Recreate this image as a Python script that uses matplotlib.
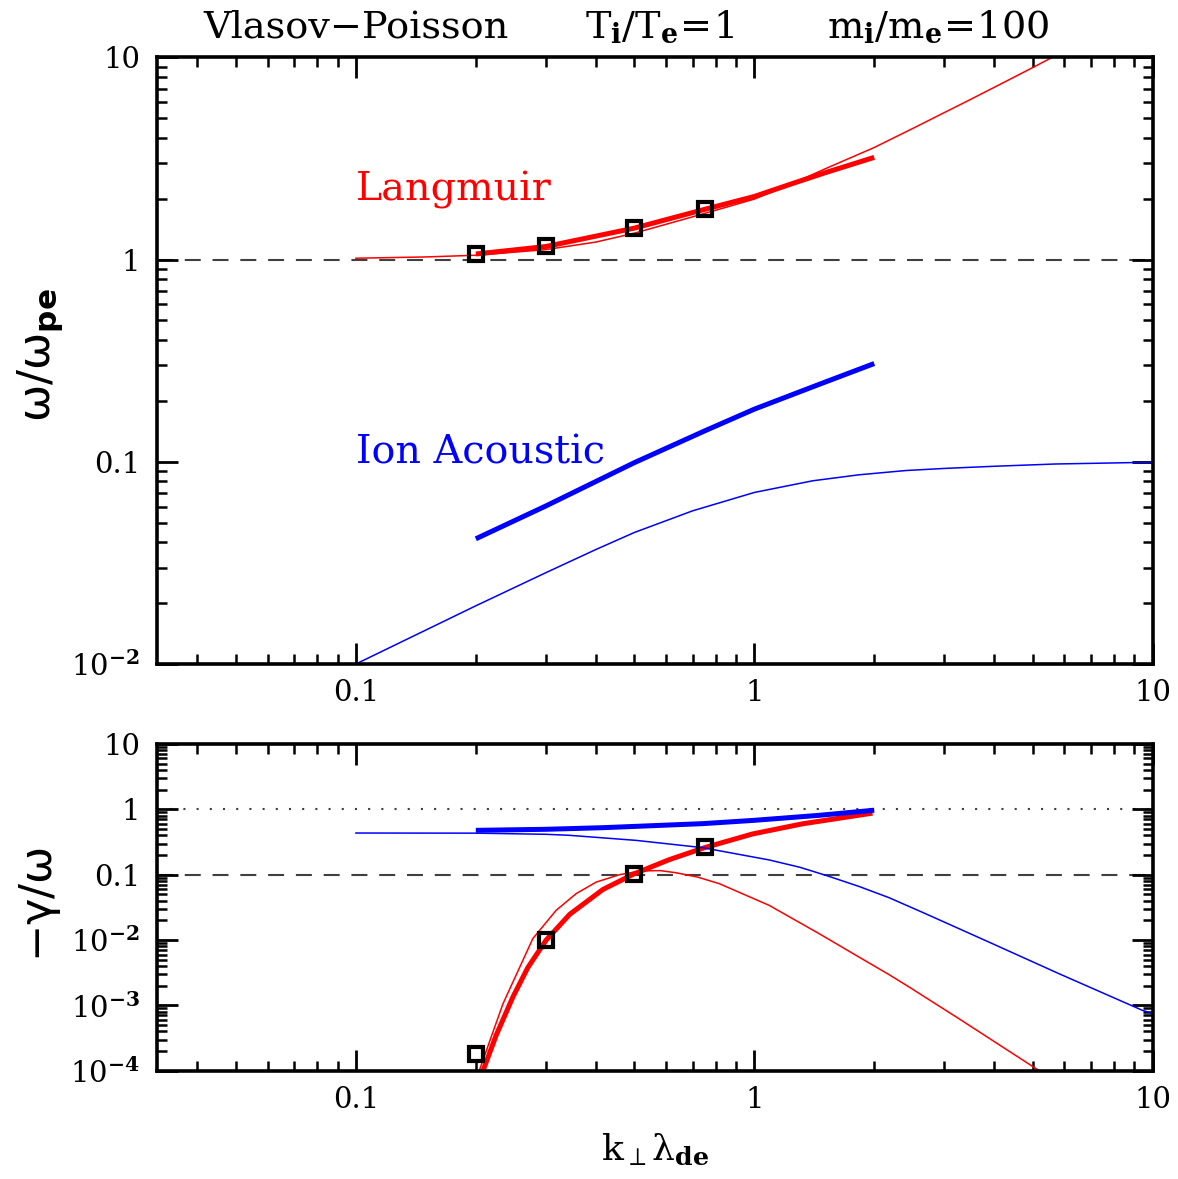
import numpy as np
import matplotlib
matplotlib.use("Agg")
import matplotlib.pyplot as plt
from matplotlib.ticker import FixedLocator, LogLocator, FuncFormatter, NullFormatter

plt.rcParams["font.family"] = ["DejaVu Serif", "DejaVu Sans"]
plt.rcParams["mathtext.fontset"] = "dejavuserif"
plt.rcParams["lines.scale_dashes"] = False

# --- real frequency omega/omega_pe vs k_perp lambda_de ---
k_lang_thin = [0.1, 0.15, 0.2, 0.3, 0.4, 0.5, 0.75, 1.0, 1.25, 1.5, 2.0, 2.5, 3.0, 3.44, 4.0, 5.0, 5.6]
w_lang_thin = [1.015, 1.03, 1.05, 1.12, 1.22, 1.35, 1.69, 1.99, 2.38, 2.8, 3.58, 4.45, 5.33, 6.1, 7.1, 8.9, 10.0]

k_lang_thick = [0.2, 0.3, 0.5, 0.75, 1.0, 1.25, 1.5, 2.0]
w_lang_thick = [1.065, 1.16, 1.43, 1.77, 2.05, 2.38, 2.68, 3.2]

k_ion_thin = [0.1, 0.2, 0.3, 0.4, 0.5, 0.7, 1.0, 1.4, 1.83, 2.4, 3.0, 4.0, 5.7, 7.0, 10.0]
w_ion_thin = [0.01, 0.0194, 0.0283, 0.0368, 0.0447, 0.0572, 0.0705, 0.0805, 0.0862, 0.0905,
              0.0927, 0.0950, 0.0975, 0.0982, 0.0995]

k_ion_thick = [0.2, 0.3, 0.5, 0.75, 1.0, 1.5, 2.0]
w_ion_thick = [0.0416, 0.0605, 0.099, 0.142, 0.182, 0.247, 0.306]

# --- damping rate -gamma/omega ---
k_gl_thin = [0.2, 0.204, 0.234, 0.278, 0.318, 0.357, 0.401, 0.459, 0.5, 0.535, 0.58, 0.636,
             0.72, 0.817, 1.09, 1.455, 1.83, 2.18, 2.45, 3.27, 5.19, 5.5]
g_gl_thin = [8e-5, 1e-4, 1.06e-3, 0.0105, 0.0284, 0.0512, 0.077, 0.100, 0.1095, 0.1145, 0.1155,
             0.107, 0.092, 0.0728, 0.0339, 0.0125, 5.5e-3, 2.95e-3, 1.9e-3, 6.2e-4, 1e-4, 8e-5]

k_gl_thick = [0.2, 0.2085, 0.225, 0.248, 0.27, 0.3, 0.344, 0.417, 0.5, 0.612, 0.75, 0.99, 1.32, 1.98]
g_gl_thick = [5e-5, 1e-4, 3.5e-4, 1.36e-3, 3.77e-3, 9.9e-3, 0.0247, 0.0594, 0.1035, 0.17, 0.259,
              0.42, 0.60, 0.875]

k_gi_thin = [0.1, 0.2, 0.3, 0.344, 0.505, 0.742, 1.09, 1.3, 1.51, 1.83, 2.18, 2.69, 3.96, 5.82, 9.42, 10.0]
g_gi_thin = [0.434, 0.432, 0.415, 0.40, 0.335, 0.259, 0.168, 0.130, 0.098, 0.0662, 0.0444, 0.0253,
             8.8e-3, 3.05e-3, 8.4e-4, 7.5e-4]

k_gi_thick = [0.2, 0.3, 0.417, 0.5, 0.742, 1.0, 1.455, 2.0]
g_gi_thick = [0.477, 0.495, 0.524, 0.548, 0.604, 0.679, 0.81, 0.97]

# simulation points
k_sim = [0.2, 0.3, 0.5, 0.75]
w_sim = [1.06, 1.165, 1.43, 1.77]
g_sim = [1.8e-4, 0.0101, 0.1035, 0.263]

FW, FH = 1178, 1179
fig = plt.figure(figsize=(FW / 100, FH / 100), dpi=100)
ax1 = fig.add_axes([156.7 / FW, 1 - 664 / FH, 996 / FW, (664 - 57.3) / FH])
ax2 = fig.add_axes([156.7 / FW, 1 - 1070.7 / FH, 996 / FW, (1070.7 - 744) / FH])


def log_label(v, pos):
    if v >= 0.1:
        return f"{v:g}"
    return r"$10^{\mathbf{%d}}$" % round(np.log10(v))


def style_axis(ax, ymin, ymax):
    ax.set_xscale("log")
    ax.set_yscale("log")
    ax.set_xlim(10 ** -1.5, 10)
    ax.set_ylim(ymin, ymax)
    ax.xaxis.set_major_locator(FixedLocator([0.1, 1, 10]))
    ax.xaxis.set_minor_locator(LogLocator(base=10, subs=range(2, 10), numticks=20))
    ax.yaxis.set_major_locator(LogLocator(base=10, numticks=20))
    ax.yaxis.set_minor_locator(LogLocator(base=10, subs=range(2, 10), numticks=20))
    ax.xaxis.set_major_formatter(FuncFormatter(log_label))
    ax.yaxis.set_major_formatter(FuncFormatter(log_label))
    ax.xaxis.set_minor_formatter(NullFormatter())
    ax.yaxis.set_minor_formatter(NullFormatter())
    ax.tick_params(which="both", direction="in", top=True, right=True, labelsize=21)
    ax.tick_params(which="major", length=15, width=2.0)
    ax.tick_params(which="minor", length=7, width=1.8)
    ax.tick_params(axis="x", pad=11)
    ax.tick_params(axis="y", pad=12)
    for s in ax.spines.values():
        s.set_linewidth(2.6)


style_axis(ax1, 0.01, 10)
style_axis(ax2, 1e-4, 10)

thin, thick = 1.1, 3.6
sq = dict(ls="none", marker="s", ms=10, mfc="none", mec="black", mew=3.0, zorder=5)

# top panel
ax1.axhline(1.0, color="#404040", lw=1.5, dashes=(11.5, 8.5), zorder=1)
ax1.plot(k_lang_thin, w_lang_thin, color="red", lw=thin)
ax1.plot(k_lang_thick, w_lang_thick, color="red", lw=thick, solid_capstyle="butt")
ax1.plot(k_ion_thin, w_ion_thin, color="blue", lw=thin)
ax1.plot(k_ion_thick, w_ion_thick, color="blue", lw=thick, solid_capstyle="butt")
ax1.plot(k_sim, w_sim, **sq)
ax1.text(0.1, 1.96, "Langmuir", color="red", fontsize=28.5, va="baseline")
ax1.text(0.1, 0.098, "Ion Acoustic", color="blue", fontsize=28.5, va="baseline")

# bottom panel
ax2.axhline(1.0, color="#404040", lw=1.5, dashes=(1.5, 8.0), zorder=1)
ax2.axhline(0.1, color="#404040", lw=1.5, dashes=(11.5, 8.5), zorder=1)
ax2.plot(k_gl_thin, g_gl_thin, color="red", lw=thin)
ax2.plot(k_gl_thick, g_gl_thick, color="red", lw=thick, solid_capstyle="butt")
ax2.plot(k_gi_thin, g_gi_thin, color="blue", lw=thin)
ax2.plot(k_gi_thick, g_gi_thick, color="blue", lw=thick, solid_capstyle="butt")
ax2.plot(k_sim, g_sim, **sq)

# labels
fig.text(40 / FW, 1 - 355 / FH, r"$\mathrm{\omega}/\mathrm{\omega}_{\bf pe}$", rotation=90,
         fontsize=32, ha="center", va="center", math_fontfamily="dejavusans")
fig.text(40 / FW, 1 - 905 / FH, r"$-\mathrm{\gamma}/\mathrm{\omega}$", rotation=90,
         fontsize=32, ha="center", va="center", math_fontfamily="dejavusans")
fig.text(654.7 / FW, 1 - 1160 / FH, r"$\mathrm{k_\perp\lambda_{\bf de}}$", fontsize=26,
         ha="center", va="baseline")

title_y = 1 - 38 / FH
fig.text(356 / FW, title_y, "Vlasov\u2212Poisson", fontsize=27.5, ha="center", va="baseline")
fig.text(660 / FW, title_y, r"$\mathrm{T_{\bf i}/T_{\bf e}\!=\!1}$", fontsize=27.5,
         ha="center", va="baseline")
fig.text(938 / FW, title_y, r"$\mathrm{m_{\bf i}/m_{\bf e}\!=\!100}$", fontsize=27.5,
         ha="center", va="baseline")

fig.savefig("out.png", dpi=100)
